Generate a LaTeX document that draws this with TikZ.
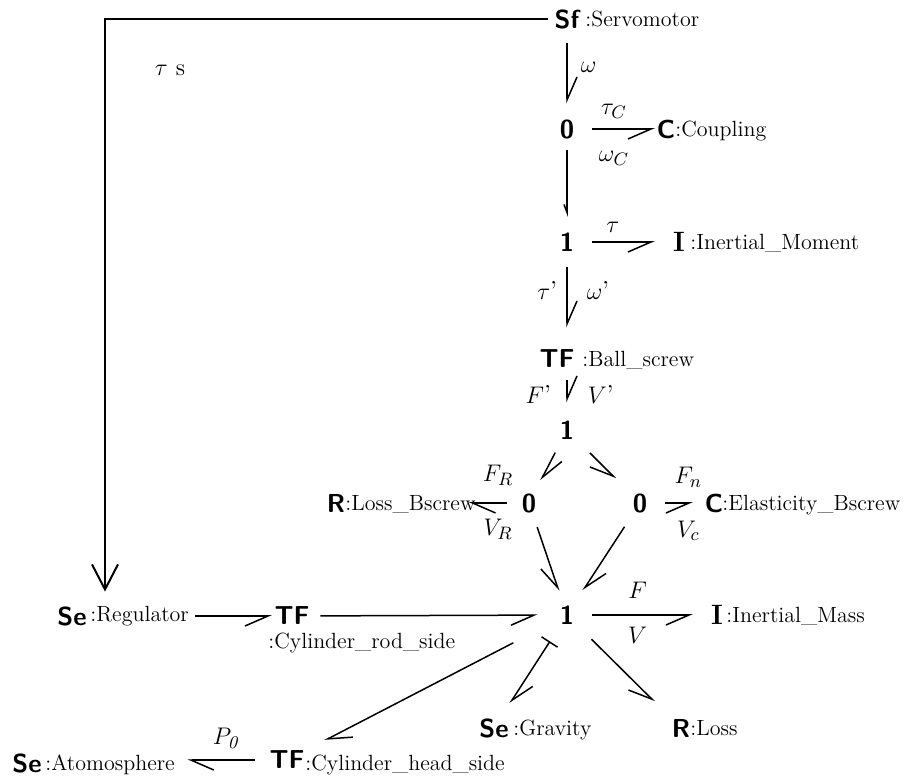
\documentclass[tikz,border=0pt]{standalone}
\usepackage{amsmath}
\usetikzlibrary{arrows.meta}

\begin{document}
\begin{tikzpicture}[x=0.5pt, y=-0.5pt,
  elem/.style={circle, minimum size=24pt, inner sep=0pt, font=\fontsize{13}{15}\selectfont\sffamily\bfseries},
  ielem/.style={elem, font=\fontsize{14}{16}\selectfont\rmfamily\bfseries},
  junc/.style={circle, minimum size=25pt, inner sep=0pt, font=\fontsize{13}{15}\selectfont\sffamily\bfseries},
  txt/.style={anchor=base west, inner sep=0pt, font=\fontsize{11}{13}\selectfont},
  sym/.style={inner sep=1pt, font=\fontsize{13}{15}\selectfont},
  bond/.style={line width=0.75pt, -{Straight Barb[harpoon, length=11.5pt, width=10pt]}},
  rbond/.style={line width=0.75pt, -{Straight Barb[harpoon, swap, length=11.5pt, width=10pt]}},
  cbond/.style={line width=0.75pt, {Bar[width=9.5pt]}-{Straight Barb[harpoon, length=11.5pt, width=10pt]}},
  signal/.style={line width=1pt, -{Straight Barb[length=12.5pt, width=13pt]}}
]
\useasboundingbox (0,0) rectangle (911,780);

\node[elem] (servo) at (567,19) {Sf};
\node[txt] (servo_txt) at (585,27) {:Servomotor};
\node[junc] (zero_c) at (567,129) {0};
\node[elem] (coupling) at (666,129) {C};
\node[txt] (coupling_txt) at (675,137) {:Coupling};
\node[junc] (one_a) at (567,242) {1};
\node[ielem] (inertia) at (679,242) {I};
\node[txt] (inertia_txt) at (690,250) {:Inertial\_Moment};
\node[elem] (ballscrew) at (557,359) {TF};
\node[txt] (ballscrew_txt) at (582,367) {:Ball\_screw};
\node[junc] (one_b) at (567,430) {1};
\node[junc] (zero_r) at (529,503) {0};
\node[elem] (loss_bs) at (336,503) {R};
\node[txt] (loss_bs_txt) at (345,511) {:Loss\_Bscrew};
\node[junc] (zero_e) at (640,503) {0};
\node[elem] (elastic) at (714,503) {C};
\node[txt] (elastic_txt) at (722,511) {:Elasticity\_Bscrew};
\node[junc] (one_m) at (567,615) {1};
\node[ielem] (mass) at (717,615) {I};
\node[txt] (mass_txt) at (726,623) {:Inertial\_Mass};
\node[elem] (regulator) at (72,616) {Se};
\node[txt] (regulator_txt) at (90,622) {:Regulator};
\node[elem] (rod) at (292,616) {TF};
\node[txt] (rod_txt) at (268,648) {:Cylinder\_rod\_side};
\node[elem] (gravity) at (494,728) {Se};
\node[txt] (gravity_txt) at (513,735) {:Gravity};
\node[elem] (loss) at (681,728) {R};
\node[txt] (loss_txt) at (690,735) {:Loss};
\node[elem] (head) at (287,760) {TF};
\node[txt] (head_txt) at (305,770) {:Cylinder\_head\_side};
\node[elem] (atmos) at (27,763) {Se};
\node[txt] (atmos_txt) at (45,770) {:Atomosphere};
\node[sym, font=\fontsize{12}{14}\selectfont] (gain) at (170,70) {$\tau$\hspace{4pt}s};

\draw[signal, shorten <=-2.5pt] (servo.west) -| ([xshift=16.5pt]regulator.north);

\draw[bond] (servo) -- node[sym, pos=0.4, right=5.5pt] (lbl_w) {$\omega$} (zero_c);
\draw[rbond, shorten >=-6.5pt] (zero_c) -- node[sym, pos=0.44, above=4pt] (lbl_tc) {$\tau_C$} node[sym, pos=0.44, below=9.5pt] (lbl_wc) {$\omega_C$} (coupling);
\draw[line width=0.75pt, -{Straight Barb[harpoon, swap, length=4pt, width=3pt]}, shorten <=-2pt] (zero_c) -- (one_a);
\draw[rbond] (one_a) -- node[sym, pos=0.33, above=3.5pt] (lbl_t) {$\tau$} (inertia);
\draw[bond, shorten >=3.5pt] (one_a) -- node[sym, pos=0.34, left=3.5pt] (lbl_t2) {$\tau$'} node[sym, pos=0.34, right=8.5pt] (lbl_w2) {$\omega$'} (one_a |- ballscrew.north);
\draw[bond, shorten <=-1.5pt, shorten >=1pt] (one_a |- ballscrew.south) -- node[sym, left=6.5pt] (lbl_f2) {$F$'} node[sym, right=9pt] (lbl_v2) {$V$'} (one_b);
\draw[bond] (one_b) -- (zero_r);
\draw[rbond, shorten <=3.5pt, shorten >=4.5pt] (one_b) -- (zero_e);
\draw[bond, shorten <=-1.5pt, shorten >=-3.5pt] (zero_r) -- node[sym, pos=0.2, above=7.5pt] (lbl_fr) {$F_R$} node[sym, pos=0.2, below=6.5pt] (lbl_vr) {$V_R$} (loss_bs_txt.east |- zero_r);
\draw[rbond, shorten >=-1.5pt] (zero_e) -- node[sym, pos=0.95, above=6.5pt] (lbl_fn) {$F_n$} node[sym, pos=0.95, below=7.5pt] (lbl_vc) {$V_c$} (elastic);
\draw[rbond] (zero_r) -- (one_m);
\draw[bond, shorten <=1.5pt, shorten >=2pt] (zero_e) -- (one_m);
\draw[rbond, shorten <=3pt, shorten >=-2pt] (regulator_txt.east |- regulator) -- (rod);
\draw[rbond, shorten <=2pt, shorten >=2pt] (rod) -- (one_m);
\draw[rbond] (one_m) -- node[sym, pos=0.45, above=7pt] (lbl_f) {$F$} node[sym, pos=0.45, below=4.5pt] (lbl_v) {$V$} (mass);
\draw[cbond, shorten <=3pt, shorten >=2.5pt] (one_m) -- (gravity);
\draw[rbond, shorten <=4.5pt, shorten >=6.5pt] (one_m) -- (loss);
\draw[bond, shorten <=17.5pt, shorten >=9pt] (one_m) -- (head);
\draw[bond, shorten <=4pt, shorten >=6pt] (head) -- node[sym, pos=0.41, above=4.5pt] (lbl_p0) {$P_{\mathit{0}}$} (atmos_txt.east |- head);
\end{tikzpicture}
\end{document}
